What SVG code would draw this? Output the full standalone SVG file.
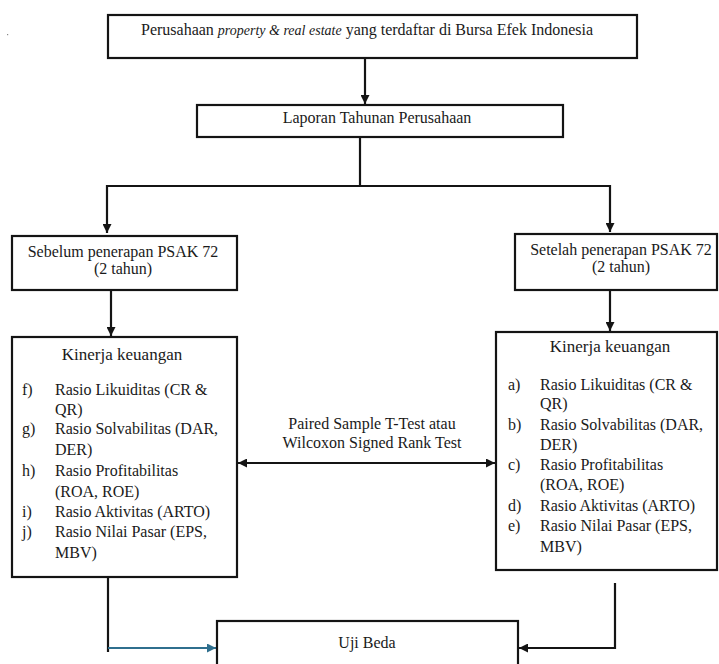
<svg xmlns="http://www.w3.org/2000/svg" width="719" height="664" viewBox="0 0 719 664">
<style>
.box{fill:#fff;stroke:#141414;stroke-width:2.2}
text{font-family:'Liberation Serif',serif;font-size:16px;fill:#1a1a1a}
.c{text-anchor:middle}
.ln{fill:none;stroke:#141414;stroke-width:2.2}
.blue{fill:none;stroke:#2f6f8e;stroke-width:2.2}
</style>
<defs>
<marker id="ah" viewBox="0 0 10 10" refX="10" refY="5" markerWidth="9" markerHeight="9" markerUnits="userSpaceOnUse" orient="auto-start-reverse">
<path d="M0,0 L10,5 L0,10 z" fill="#141414"/>
</marker>
<marker id="ahb" viewBox="0 0 10 10" refX="10" refY="5" markerWidth="9" markerHeight="9" markerUnits="userSpaceOnUse" orient="auto">
<path d="M0,0 L10,5 L0,10 z" fill="#2f6f8e"/>
</marker>
</defs>
<rect width="719" height="664" fill="#fff"/>
<rect x="7" y="34" width="1.2" height="1.2" fill="#888"/>

<g id="connectors">
<line class="ln" x1="365" y1="58" x2="365" y2="104" marker-end="url(#ah)"/>
<polyline class="ln" points="360,137 360,186"/>
<polyline class="ln" points="107,233 107,186 610,186 610,232" marker-start="url(#ah)" marker-end="url(#ah)"/>
<line class="ln" x1="111" y1="290" x2="111" y2="336" marker-end="url(#ah)"/>
<line class="ln" x1="610" y1="290" x2="610" y2="331" marker-end="url(#ah)"/>
<line class="ln" x1="238" y1="463" x2="495" y2="463" marker-start="url(#ah)" marker-end="url(#ah)"/>
<line class="ln" x1="108" y1="577" x2="108" y2="652"/>
<line class="blue" x1="108" y1="648" x2="216" y2="648" marker-end="url(#ahb)"/>
<polyline class="ln" points="615,583 615,648 519,648" marker-end="url(#ah)"/>
</g>

<g id="n-perusahaan">
<rect class="box" x="108" y="15" width="529" height="43"/>
<text x="141" y="35">Perusahaan <tspan font-style="italic" font-size="14">property &amp; real estate</tspan> yang terdaftar di Bursa Efek Indonesia</text>
</g>

<g id="n-laporan">
<rect class="box" x="197" y="105" width="366" height="32"/>
<text class="c" x="377" y="123">Laporan Tahunan Perusahaan</text>
</g>

<g id="n-sebelum">
<rect class="box" x="12" y="236" width="225" height="54"/>
<text class="c" x="123" y="257">Sebelum penerapan PSAK 72</text>
<text class="c" x="123" y="274">(2 tahun)</text>
</g>

<g id="n-setelah">
<rect class="box" x="515" y="234" width="202" height="56"/>
<text class="c" x="621" y="255">Setelah penerapan PSAK 72</text>
<text class="c" x="621" y="272">(2 tahun)</text>
</g>

<g id="n-kinerja-sebelum">
<rect class="box" x="12" y="337" width="225" height="240"/>
<text class="c" x="122" y="360" style="font-size:17px">Kinerja keuangan</text>
<text x="22" y="395">f)</text><text x="55" y="395">Rasio Likuiditas (CR &amp;</text>
<text x="55" y="415">QR)</text>
<text x="22" y="434">g)</text><text x="55" y="434">Rasio Solvabilitas (DAR,</text>
<text x="55" y="455">DER)</text>
<text x="22" y="476">h)</text><text x="55" y="476">Rasio Profitabilitas</text>
<text x="55" y="497">(ROA, ROE)</text>
<text x="22" y="517">i)</text><text x="55" y="517">Rasio Aktivitas (ARTO)</text>
<text x="22" y="537">j)</text><text x="55" y="537">Rasio Nilai Pasar (EPS,</text>
<text x="55" y="558">MBV)</text>
</g>

<g id="n-kinerja-setelah">
<rect class="box" x="496" y="332" width="221" height="238"/>
<text class="c" x="610" y="352" style="font-size:17px">Kinerja keuangan</text>
<text x="508" y="390">a)</text><text x="540" y="390">Rasio Likuiditas (CR &amp;</text>
<text x="540" y="409">QR)</text>
<text x="508" y="430">b)</text><text x="540" y="430">Rasio Solvabilitas (DAR,</text>
<text x="540" y="450">DER)</text>
<text x="508" y="470">c)</text><text x="540" y="470">Rasio Profitabilitas</text>
<text x="540" y="490">(ROA, ROE)</text>
<text x="508" y="511">d)</text><text x="540" y="511">Rasio Aktivitas (ARTO)</text>
<text x="508" y="531">e)</text><text x="540" y="531">Rasio Nilai Pasar (EPS,</text>
<text x="540" y="552">MBV)</text>
</g>

<g id="n-paired">
<text class="c" x="372" y="429">Paired Sample T-Test atau</text>
<text class="c" x="372" y="448">Wilcoxon Signed Rank Test</text>
</g>

<g id="n-uji-beda">
<rect class="box" x="217" y="621" width="301" height="60"/>
<text class="c" x="367" y="648">Uji Beda</text>
</g>
</svg>
